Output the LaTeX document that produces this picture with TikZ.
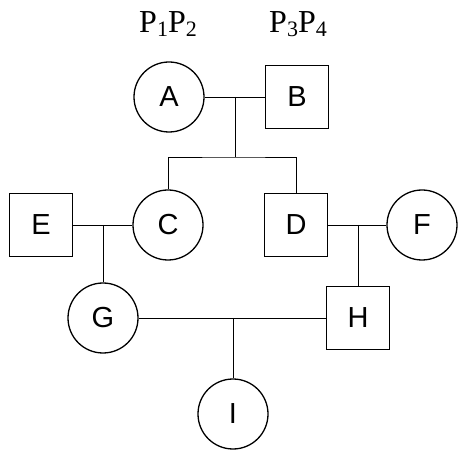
\documentclass[tikz,border=0pt]{standalone}
\usepackage{fontspec}
\setmainfont{Liberation Serif}
\setsansfont{Liberation Sans}
\newcommand\lowidx[1]{\raisebox{-0.12em}{\fontsize{22}{22}\selectfont #1}}
\begin{document}
\begin{tikzpicture}[x=1pt,y=-1pt,
  person/.style={draw, line width=1.3pt, inner sep=0pt,
    font=\sffamily\fontsize{29}{29}\selectfont},
  female/.style={person, circle, minimum size=70pt},
  male/.style={person, rectangle, minimum size=63pt},
  link/.style={line width=0.9pt},
  genotype/.style={inner sep=0pt, anchor=base, font=\fontsize{32}{32}\selectfont}]
\useasboundingbox (0,0) rectangle (458,454);

% genotype labels above the first generation
\node[genotype] (pa) at (168,33) {P\lowidx{1}P\lowidx{2}};
\node[genotype] (pb) at (298,33) {P\lowidx{3}P\lowidx{4}};

% individuals
\node[female] (A) at (169,97) {A};
\node[male]   (B) at (297,97) {B};
\node[female] (C) at (168,225) {C};
\node[male]   (D) at (296,225) {D};
\node[male]   (E) at (41,225) {E};
\node[female] (F) at (422,225) {F};
\node[female] (G) at (103,318) {G};
\node[male]   (H) at (358,318) {H};
\node[female] (I) at (233,414) {I};

% marriage and descent points
\coordinate (ab)  at (235,97);
\coordinate (sib) at (235,157);
\coordinate (ec)  at (103,225);
\coordinate (df)  at (358,225);
\coordinate (gh)  at (233,318);

% A x B and their children C, D
\draw[link] (A) -- (B);
\draw[link] (ab) -- (sib);
\draw[link] (C.north) |- (sib) -| (D.north);

% E x C -> G
\draw[link] (E) -- (C);
\draw[link] (ec) -- (G.north);

% D x F -> H
\draw[link] (D) -- (F);
\draw[link] (df) -- (H.north);

% G x H -> I
\draw[link] (G) -- (H);
\draw[link] (gh) -- (I.north);
\end{tikzpicture}
\end{document}
